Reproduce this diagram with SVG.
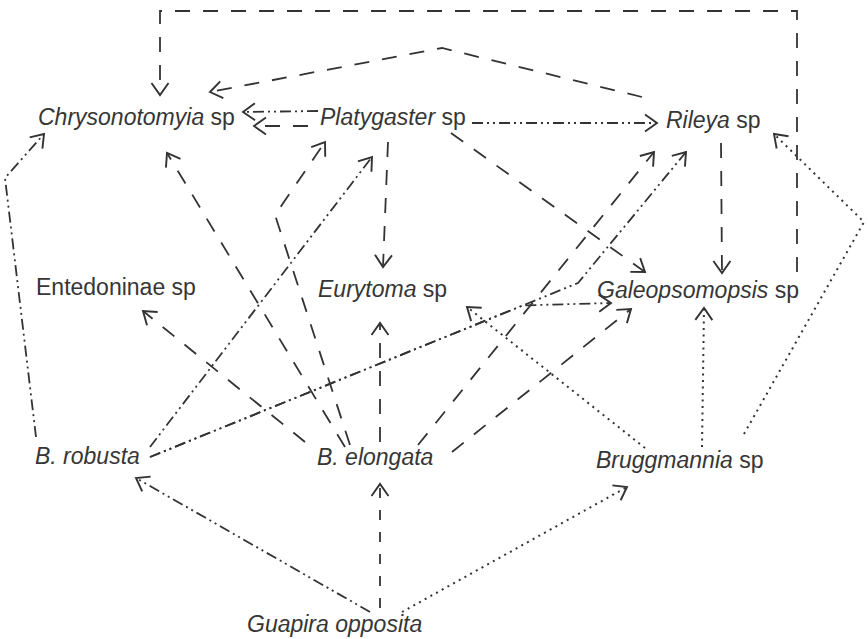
<svg xmlns="http://www.w3.org/2000/svg" width="868" height="639" viewBox="0 0 868 639">
<style>
text{font-family:"Liberation Sans",Arial,sans-serif;font-size:23px;fill:#363636}
.i{font-style:italic}
.e{fill:none;stroke:#333;stroke-width:1.8;marker-end:url(#a)}
.d{stroke-dasharray:15 13}
.o{stroke-dasharray:2 4.5;stroke-width:2}
.dd{stroke-dasharray:11 4 2 4 2 4}
.v{stroke-dasharray:10 12}
</style>
<defs>
<marker id="a" markerUnits="userSpaceOnUse" orient="auto" refX="0" refY="0" markerWidth="20" markerHeight="20" overflow="visible">
<path d="M-12,-8.5 L0,0 L-12,8.5" fill="none" stroke="#333" stroke-width="1.9"/>
</marker>
</defs>
<rect width="868" height="639" fill="#fff"/>
<g id="connectors">
<path class="e d" d="M797,272 V11 H160 V95"/>
<path class="e d" d="M642,97 L442,48 L210,92"/>
<path class="e dd" d="M318,111 L243,112"/>
<path class="e d" d="M308,126 L254,126"/>
<path class="e dd" d="M472,123 L657,123"/>
<path class="e d" d="M388,142 L383,267"/>
<path class="e d" d="M451,133 L645,272"/>
<path class="e d" d="M721,143 L722,273"/>
<path class="e d" d="M345,447 L167,153"/>
<path class="e d" d="M350,445 L275,215 L325,142"/>
<path class="e d" d="M305,442 L143,311"/>
<path class="e d" d="M380,442 L380,323"/>
<path class="e d" d="M418,445 L654,152"/>
<path class="e d" d="M452,452 L631,309"/>
<path class="e dd" d="M36,437 L5,178 L44,134"/>
<path class="e dd" d="M150,447 L372,157"/>
<path class="e dd" d="M150,457 L523,305.4 L611,303"/>
<path class="e dd" d="M150,457 L578,283 L686,152"/>
<path class="e o" d="M645,448 L467,307"/>
<path class="e o" d="M702,447 L704,308"/>
<path class="e o" d="M744,434 L864,222 L774,134"/>
<path class="e dd" d="M370,612 L136,478"/>
<path class="e v" d="M380,608 L380,484"/>
<path class="e o" d="M402,612 L627,487"/>
</g>
<g id="chrysonotomyia"><text x="38" y="125"><tspan class="i">Chrysonotomyia</tspan> sp</text></g>
<g id="platygaster"><text x="320" y="125"><tspan class="i">Platygaster</tspan> sp</text></g>
<g id="rileya"><text x="666" y="128"><tspan class="i">Rileya</tspan> sp</text></g>
<g id="entedoninae"><text x="36" y="295">Entedoninae sp</text></g>
<g id="eurytoma"><text x="318" y="297"><tspan class="i">Eurytoma</tspan> sp</text></g>
<g id="galeopsomopsis"><text x="597" y="298"><tspan class="i">Galeopsomopsis</tspan> sp</text></g>
<g id="b-robusta"><text x="35" y="464" class="i">B. robusta</text></g>
<g id="b-elongata"><text x="317" y="465" class="i">B. elongata</text></g>
<g id="bruggmannia"><text x="596" y="468"><tspan class="i">Bruggmannia</tspan> sp</text></g>
<g id="guapira"><text x="247" y="632" class="i">Guapira opposita</text></g>
</svg>
